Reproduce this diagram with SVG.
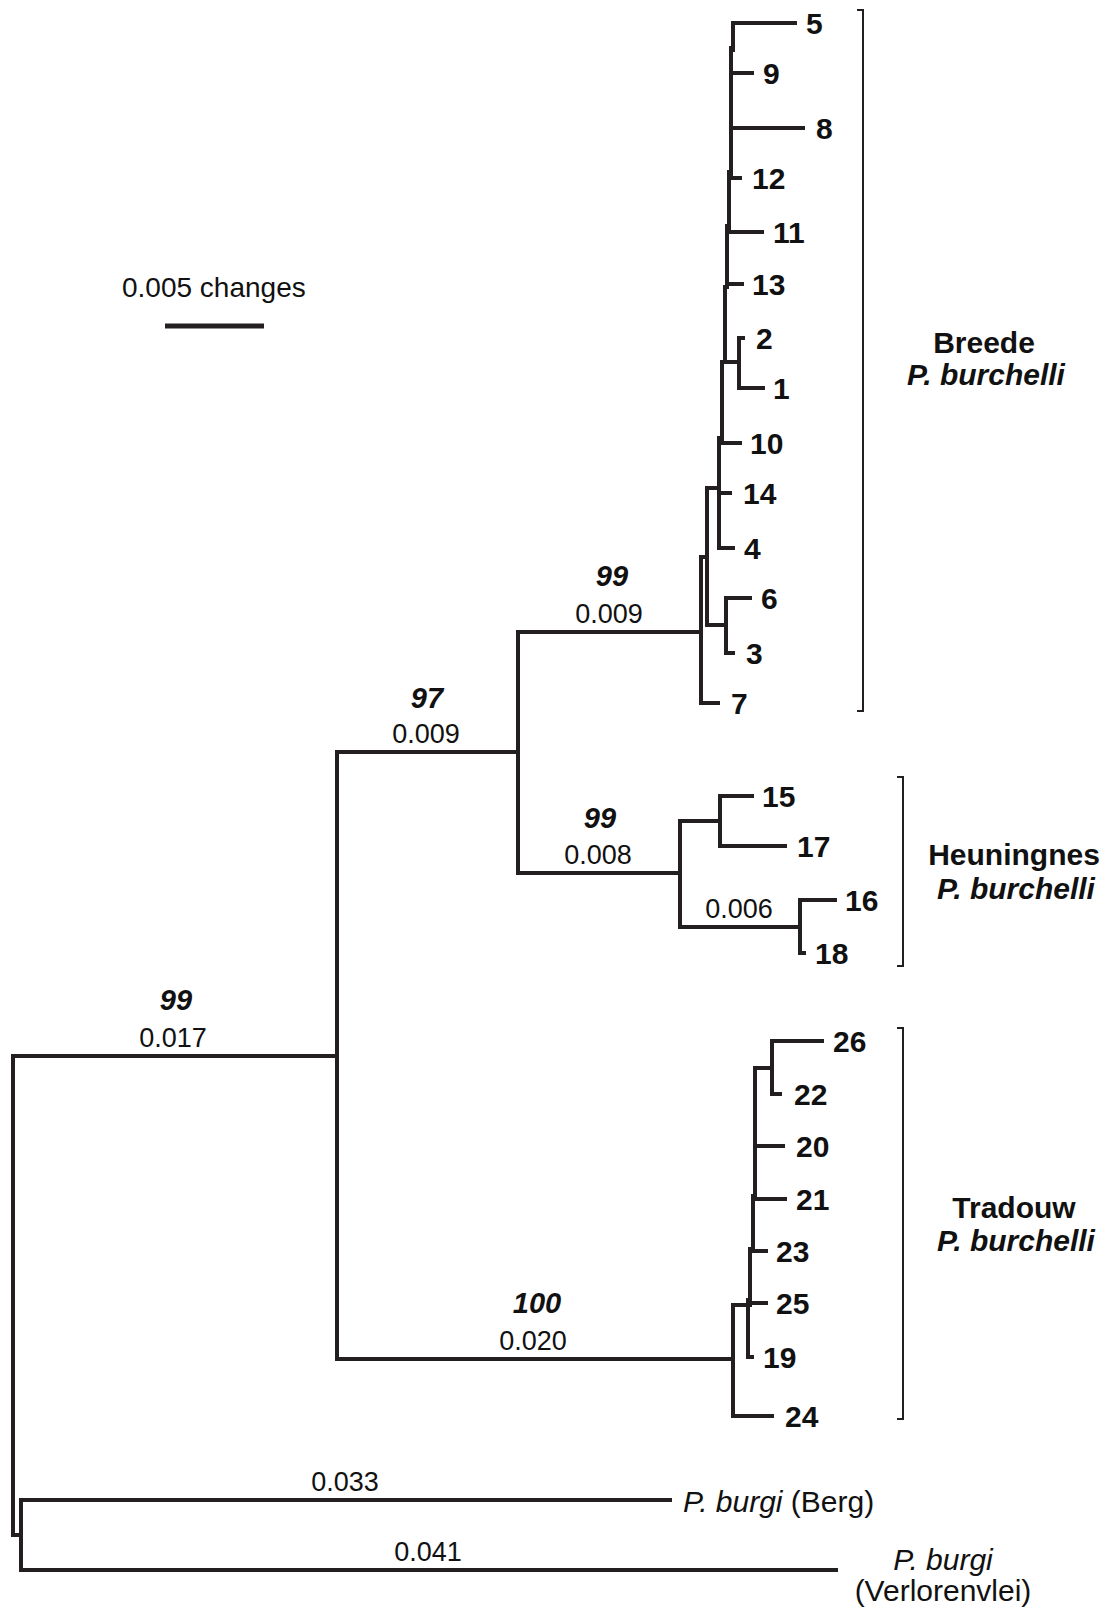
<svg xmlns="http://www.w3.org/2000/svg" width="1111" height="1614" viewBox="0 0 1111 1614">
<style>
.br{fill:none;stroke:#231f20;stroke-width:4;stroke-linecap:square}
.bk{fill:none;stroke:#231f20;stroke-width:2}
.leaf{font-family:"Liberation Sans",Arial,sans-serif;font-weight:bold;font-size:30px;fill:#111}
.bs{font-family:"Liberation Sans",Arial,sans-serif;font-weight:bold;font-style:italic;font-size:29px;fill:#111;text-anchor:middle}
.bl{font-family:"Liberation Sans",Arial,sans-serif;font-size:27px;fill:#111;text-anchor:middle}
.grp{font-family:"Liberation Sans",Arial,sans-serif;font-weight:bold;font-size:30px;fill:#111;text-anchor:middle}
.sp{font-family:"Liberation Sans",Arial,sans-serif;font-size:30px;fill:#111}
</style>
<rect width="1111" height="1614" fill="#fff"/>
<g id="connectors">
<!-- root -->
<path class="br" d="M13,1056 V1535 M13,1056 H337 M13,1535 H21 M21,1500 V1570 M21,1500 H670 M21,1570 H836"/>
<!-- ingroup -->
<path class="br" d="M337,752 V1359 M337,752 H518 M337,1359 H733"/>
<path class="br" d="M518,632 V873 M518,632 H701 M518,873 H680"/>
<!-- Breede -->
<path class="br" d="M701,557 V703 M701,703 H718 M701,557 H707 M707,488 V625 M707,625 H726 M726,598 V653 M726,598 H750 M726,653 H733 M707,488 H719 M719,438 V548 M719,548 H733 M719,493 H730 M722,362 V443 M722,443 H740 M725,287 V362 M725,362 H739 M739,338 V388 M739,338 H743 M739,388 H763 M727,226 V287 M727,284 H742 M729,172 V232 M729,232 H762 M731,48 V178 M731,178 H740 M731,128 H803 M731,73 H752 M733,23 V50 M733,23 H795"/>
<!-- Heuningnes -->
<path class="br" d="M680,821 V927 M680,821 H720 M720,796 V846 M720,796 H752 M720,846 H785 M680,927 H800 M800,900 V953 M800,900 H835 M800,953 H804"/>
<!-- Tradouw -->
<path class="br" d="M733,1305 V1416 M733,1416 H772 M733,1305 H748 M748,1300 V1357 M748,1357 H752 M750,1249 V1305 M750,1251 H766 M750,1303 H766 M753,1196 V1251 M753,1199 H785 M755,1068 V1199 M755,1146 H783 M755,1068 H772 M772,1041 V1094 M772,1041 H822 M772,1094 H780"/>
<!-- brackets -->
<path class="bk" d="M857,10 H863 V711 H857"/>
<path class="bk" d="M897,777 H903 V966 H897"/>
<path class="bk" d="M897,1028 H903 V1419 H897"/>
<!-- scale bar -->
<path fill="none" stroke="#231f20" stroke-width="5" d="M165,326 H264"/>
</g>
<g id="scale"><text class="sp" x="122" y="297" style="font-size:28px">0.005 changes</text></g>
<g id="leaves">
<text class="leaf" x="806" y="34">5</text>
<text class="leaf" x="763" y="84">9</text>
<text class="leaf" x="816" y="139">8</text>
<text class="leaf" x="752" y="189">12</text>
<text class="leaf" x="773" y="243">11</text>
<text class="leaf" x="752" y="295">13</text>
<text class="leaf" x="756" y="349">2</text>
<text class="leaf" x="773" y="399">1</text>
<text class="leaf" x="750" y="454">10</text>
<text class="leaf" x="743" y="504">14</text>
<text class="leaf" x="744" y="559">4</text>
<text class="leaf" x="761" y="609">6</text>
<text class="leaf" x="746" y="664">3</text>
<text class="leaf" x="731" y="714">7</text>
<text class="leaf" x="762" y="807">15</text>
<text class="leaf" x="797" y="857">17</text>
<text class="leaf" x="845" y="911">16</text>
<text class="leaf" x="815" y="964">18</text>
<text class="leaf" x="833" y="1052">26</text>
<text class="leaf" x="794" y="1105">22</text>
<text class="leaf" x="796" y="1157">20</text>
<text class="leaf" x="796" y="1210">21</text>
<text class="leaf" x="776" y="1262">23</text>
<text class="leaf" x="776" y="1314">25</text>
<text class="leaf" x="763" y="1368">19</text>
<text class="leaf" x="785" y="1427">24</text>
</g>
<g id="support">
<text class="bs" x="612" y="586">99</text>
<text class="bs" x="427" y="708">97</text>
<text class="bs" x="600" y="828">99</text>
<text class="bs" x="176" y="1010">99</text>
<text class="bs" x="537" y="1313">100</text>
</g>
<g id="lengths">
<text class="bl" x="609" y="623">0.009</text>
<text class="bl" x="426" y="743">0.009</text>
<text class="bl" x="598" y="864">0.008</text>
<text class="bl" x="739" y="918">0.006</text>
<text class="bl" x="173" y="1047">0.017</text>
<text class="bl" x="533" y="1350">0.020</text>
<text class="bl" x="345" y="1491">0.033</text>
<text class="bl" x="428" y="1561">0.041</text>
</g>
<g id="groups">
<text class="grp" x="984" y="353">Breede</text>
<text class="grp" x="986" y="385" font-style="italic">P. burchelli</text>
<text class="grp" x="1014" y="865">Heuningnes</text>
<text class="grp" x="1016" y="899" font-style="italic">P. burchelli</text>
<text class="grp" x="1014" y="1218">Tradouw</text>
<text class="grp" x="1016" y="1251" font-style="italic">P. burchelli</text>
</g>
<g id="outgroups">
<text class="sp" x="683" y="1512"><tspan font-style="italic">P. burgi</tspan> (Berg)</text>
<text class="sp" x="943" y="1570" text-anchor="middle" font-style="italic">P. burgi</text>
<text class="sp" x="943" y="1601" text-anchor="middle">(Verlorenvlei)</text>
</g>
</svg>
